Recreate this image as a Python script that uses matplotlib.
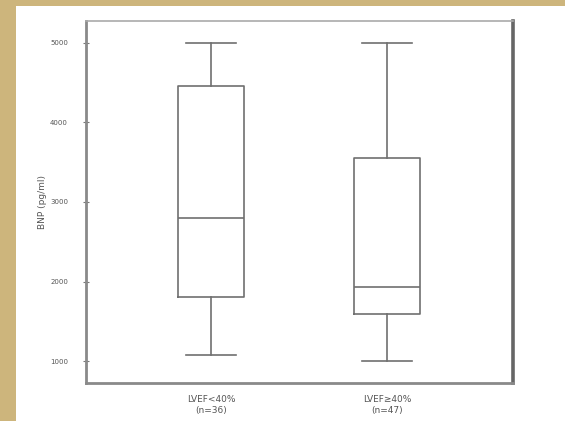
import matplotlib
matplotlib.use("Agg")
import matplotlib.pyplot as plt
from matplotlib.patches import Rectangle

# values (BNP, pg/ml)
groups = ["LVEF<40%\n(n=36)", "LVEF\u226540%\n(n=47)"]
whisker_low = [1075, 1000]
q1 = [1812, 1587]
median = [2800, 1937]
q3 = [4462, 3550]
whisker_high = [5000, 5000]
yticks = [1000, 2000, 3000, 4000, 5000]


def main():
    fig = plt.figure(figsize=(5.65, 4.21), dpi=100)
    fig.patch.set_facecolor("#cdb57c")
    # white slide panel, kept behind the axes
    fig.patches.append(Rectangle((16 / 565, 0), 1, 1 - 6 / 421,
                                 transform=fig.transFigure,
                                 facecolor="white", edgecolor="none", zorder=-10))

    ax = fig.add_axes([86 / 565, 38 / 421, 427 / 565, 362 / 421])
    ax.set_facecolor("white")

    stats = []
    for i in range(len(groups)):
        stats.append({
            "whislo": whisker_low[i], "q1": q1[i], "med": median[i],
            "q3": q3[i], "whishi": whisker_high[i], "fliers": [],
        })

    line = dict(color="#707070", linewidth=1.2)
    ax.bxp(stats, positions=[1, 2], widths=0.375, capwidths=0.28,
           showfliers=False,
           boxprops=line, medianprops=line, whiskerprops=line, capprops=line)

    ax.set_xlim(0.29, 2.716)
    ax.set_ylim(725, 5275)
    ax.set_yticks(yticks)
    ax.set_yticklabels([str(v) for v in yticks], fontsize=5, color="#555555")
    ax.set_xticks([1, 2])
    ax.set_xticklabels(groups, fontsize=6.5, color="#555555", linespacing=1.25)
    ax.tick_params(axis="x", length=0, pad=9)
    ax.tick_params(axis="y", direction="inout", length=4, width=0.8,
                   color="#777777", pad=11)
    ax.set_ylabel("BNP (pg/ml)", fontsize=6.5, color="#555555", labelpad=2)

    for side, w, c in [("left", 2.0, "#8a8a8a"), ("bottom", 2.0, "#8a8a8a"),
                       ("right", 2.6, "#666666"), ("top", 1.2, "#aaaaaa")]:
        ax.spines[side].set_linewidth(w)
        ax.spines[side].set_color(c)

    fig.savefig("out.png", dpi=100)


if __name__ == "__main__":
    main()
